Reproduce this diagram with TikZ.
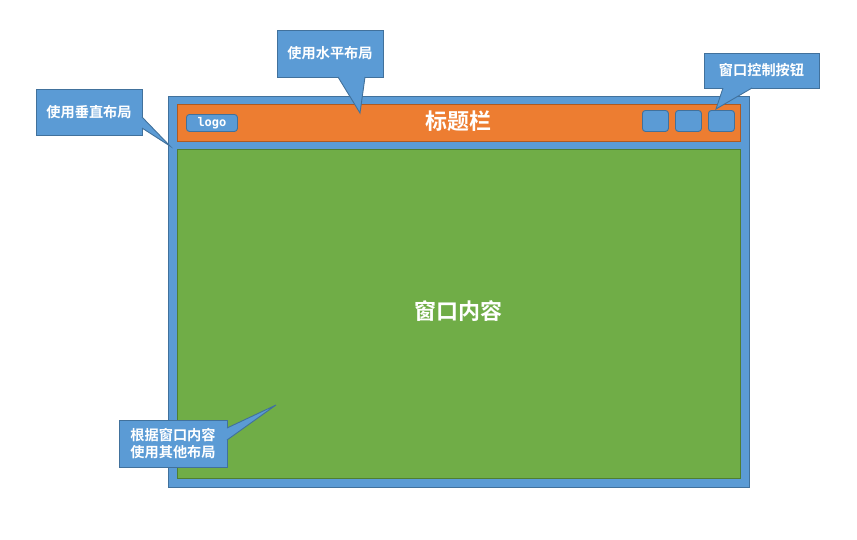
\documentclass[tikz,border=0pt]{standalone}
\usepackage{fontspec}
\newfontfamily\cjk{Noto Sans CJK SC}[BoldFont=* Bold]
\newfontfamily\monob{DejaVu Sans Mono}
\definecolor{winblue}{HTML}{5B9BD5}
\definecolor{winborder}{HTML}{41719C}
\definecolor{barorange}{HTML}{ED7D31}
\definecolor{barborder}{HTML}{AE5A21}
\definecolor{contgreen}{HTML}{70AD47}
\definecolor{contborder}{HTML}{507E32}
\begin{document}
\begin{tikzpicture}[x=1pt,y=-1pt,
  panel/.style={draw=#1, line width=0.9pt, anchor=north west, inner sep=0pt},
  btn/.style={draw=winborder, fill=winblue, line width=0.9pt, rounded corners=3pt, anchor=north west, inner sep=0pt, minimum width=26pt, minimum height=21pt},
  callbox/.style={draw=winborder, fill=winblue, line width=0.9pt, inner sep=0pt, text=white, font=\cjk\bfseries\fontsize{14.2}{16.5}\selectfont, align=center},
  tailfill/.style={fill=winblue},
  tailline/.style={draw=winborder, line width=0.9pt, line join=miter},
  bigtext/.style={text=white, font=\cjk\bfseries\fontsize{22}{26}\selectfont}
]
\useasboundingbox (0,0) rectangle (857,539);
% window
\node[panel=winborder, fill=winblue, minimum width=581pt, minimum height=391pt] (win) at (168,96) {};
\node[panel=barborder, fill=barorange, minimum width=563pt, minimum height=37pt] (bar) at (177,104) {};
\node[panel=contborder, fill=contgreen, minimum width=563pt, minimum height=329pt] (cont) at (177,149) {};
\node[btn, minimum width=51pt, minimum height=17pt] (logo) at (186,114) {};
\node[text=white, font=\monob\bfseries\fontsize{12}{12}\selectfont] (logotext) at (logo.center) {logo};
\node[btn] (b1) at (642,110) {};
\node[btn] (b2) at (675,110) {};
\node[btn] (b3) at (708,110) {};
\node[bigtext] (title) at (458.5,121) {标题栏};
\node[bigtext] (content) at (458.5,311) {窗口内容};
% callout 1
\node[callbox, minimum width=106pt, minimum height=46pt] (c1) at (89,112) {使用垂直布局};
\coordinate (t1) at (170,146);
\fill[tailfill] (140,117) -- (142,117) -- (t1) -- (142,128) -- (140,128) -- cycle;
\draw[tailline] (142,117) -- (t1) -- (142,128);
% callout 2
\node[callbox, minimum width=106pt, minimum height=47pt] (c2) at (330,53.5) {使用水平布局};
\coordinate (t2) at (360,113);
\fill[tailfill] (338,75) -- (338,77) -- (t2) -- (365,77) -- (365,75) -- cycle;
\draw[tailline] (338,77) -- (t2) -- (365,77);
% callout 3
\node[callbox, minimum width=115pt, minimum height=35pt] (c3) at (761.5,70.5) {窗口控制按钮};
\coordinate (t3) at (716,109);
\fill[tailfill] (723,86) -- (723,88) -- (t3) -- (752,88) -- (752,86) -- cycle;
\draw[tailline] (723,88) -- (t3) -- (752,88);
% callout 4
\node[callbox, minimum width=108pt, minimum height=47pt] (c4) at (173,443.5) {根据窗口内容\\使用其他布局};
\coordinate (t4) at (276,405);
\fill[tailfill] (225,428) -- (227,428) -- (t4) -- (227,440) -- (225,440) -- cycle;
\draw[tailline] (227,428) -- (t4) -- (227,440);
\end{tikzpicture}
\end{document}
